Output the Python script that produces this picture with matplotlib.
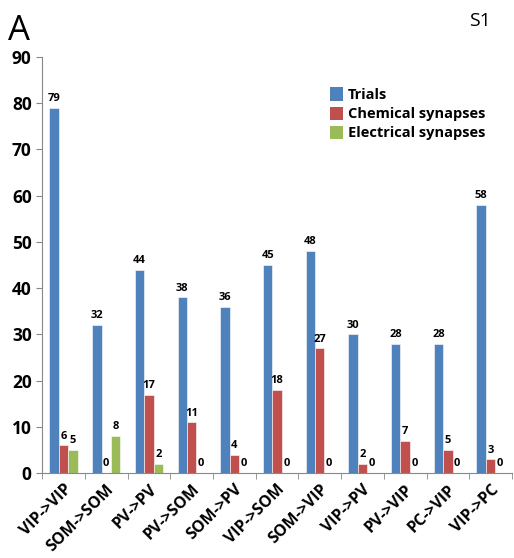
import numpy as np
import matplotlib.pyplot as plt
from matplotlib.patches import Patch

categories = ["VIP->VIP", "SOM->SOM", "PV->PV", "PV->SOM", "SOM->PV", "VIP->SOM",
              "SOM->VIP", "VIP->PV", "PV->VIP", "PC->VIP", "VIP->PC"]
trials = [79, 32, 44, 38, 36, 45, 48, 30, 28, 28, 58]
chemical = [6, 0, 17, 11, 4, 18, 27, 2, 7, 5, 3]
electrical = [5, 8, 2, 0, 0, 0, 0, 0, 0, 0, 0]
series_names = ["Trials", "Chemical synapses", "Electrical synapses"]
colors = ["#4F81BD", "#C0504D", "#9BBB59"]

plt.rcParams["font.family"] = ["Open Sans", "DejaVu Sans"]

fig = plt.figure(figsize=(5.14, 5.58), dpi=100)
ax = fig.add_axes([0.082, 0.152, 0.914, 0.746])

x = np.arange(len(categories))
w = 0.22
for i, (vals, col) in enumerate(zip([trials, chemical, electrical], colors)):
    pos = x + (i - 1) * w
    ax.bar(pos, vals, width=w, color=col, edgecolor="white", linewidth=0.4)
    for p, v in zip(pos, vals):
        ax.text(p, v + 0.8, str(v), ha="center", va="bottom",
                fontsize=8, fontweight="bold")

ax.set_xlim(-0.5, len(categories) - 0.5)
ax.set_ylim(0, 90)
ax.set_yticks(range(0, 91, 10))
ax.set_xticks(x)
ax.set_xticklabels(categories, rotation=45, ha="right", rotation_mode="anchor",
                   fontsize=11.5, fontweight="bold")
ax.set_xticks(np.arange(-0.5, len(categories), 1), minor=True)
ax.tick_params(axis="x", which="major", length=0, pad=6)
ax.tick_params(axis="x", which="minor", length=4, color="#888888")
ax.tick_params(axis="y", length=4, color="#888888", labelsize=12.5)
for lbl in ax.get_yticklabels():
    lbl.set_fontweight("bold")

for s in ["top", "right"]:
    ax.spines[s].set_visible(False)
for s in ["left", "bottom"]:
    ax.spines[s].set_color("#888888")
    ax.spines[s].set_linewidth(0.8)

handles = [Patch(facecolor=c, label=n) for c, n in zip(colors, series_names)]
leg = ax.legend(handles=handles, loc="upper left", bbox_to_anchor=(0.6, 0.94),
                frameon=False, handlelength=1.0, handleheight=1.1,
                handletextpad=0.3, labelspacing=0.35, borderaxespad=0)
for t in leg.get_texts():
    t.set_fontsize(10.5)
    t.set_fontweight("bold")

fig.text(0.015, 0.945, "A", fontsize=25, va="center", ha="left")
fig.text(0.955, 0.962, "S1", fontsize=14, va="center", ha="right")

fig.savefig("out.png", dpi=100)
